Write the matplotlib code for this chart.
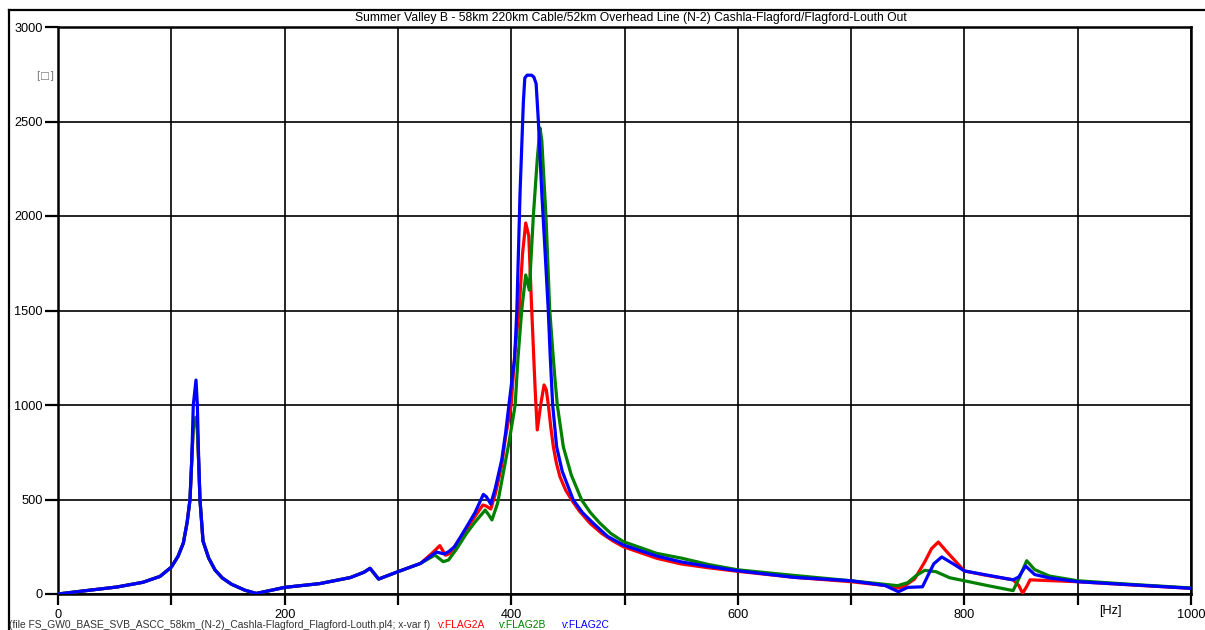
import numpy as np
import matplotlib
matplotlib.use("Agg")
import matplotlib.pyplot as plt
from matplotlib.lines import Line2D

plt.rcParams["font.family"] = ["Liberation Sans", "DejaVu Sans"]

TITLE = ("Summer Valley B - 58km 220km Cable/52km Overhead Line (N-2) "
         "Cashla-Flagford/Flagford-Louth Out")
FILE_NOTE = ("(file FS_GW0_BASE_SVB_ASCC_58km_(N-2)_Cashla-Flagford_"
             "Flagford-Louth.pl4; x-var f)")

# --- common low-frequency part (all three nodes almost identical) ---
f_low = [0, 25, 52, 75, 90, 100, 106, 110.6, 114, 116.5, 118, 119.4, 121.8,
         123, 124, 125.3, 128, 133, 138.6, 145, 153, 165, 175, 190, 200, 231,
         258, 270, 275.4, 283, 300, 320]
v_low = [0, 18, 37, 62, 93, 142, 200, 269, 380, 500, 700, 1000, 1132,
         1000, 750, 500, 280, 190, 127, 85, 52, 20, 3, 22, 35, 55,
         87, 115, 136, 79, 118, 162]
# red/green sit a little lower at the 120 Hz resonance
v_low_ab = [0, 18, 37, 62, 93, 142, 200, 269, 380, 500, 700, 880, 935,
            870, 720, 500, 280, 190, 127, 85, 52, 20, 3, 22, 35, 55,
            87, 115, 136, 79, 118, 162]

# --- v:FLAG2A ---
f_a = [330, 337, 342, 346, 352, 360.7, 368, 375, 378, 382, 386, 391.6, 395,
       400, 403.5, 407, 410, 412.8, 415.5, 418, 421, 423, 426, 429, 431,
       432.8, 435, 437.2, 440, 443, 448, 453.4, 460, 469.6, 480, 490, 499,
       528.4, 550, 575, 600, 650, 700, 730, 741.7, 746, 756, 765, 771, 777,
       785, 800, 820, 843, 848, 851.4, 855, 858, 870, 900, 950, 1000]
v_a = [215, 256, 205, 215, 270, 345, 410, 471, 465, 450, 530, 680, 830,
       1000, 1300, 1503, 1800, 1963, 1895, 1520, 1100, 868, 1000, 1106, 1080,
       1000, 880, 779, 690, 621, 550, 497, 440, 374, 320, 280, 250,
       189, 159, 138, 120, 88, 65, 45, 32, 38, 79, 170, 240, 275,
       220, 122, 98, 75, 45, 4, 40, 75, 72, 65, 47, 30]

# --- v:FLAG2B ---
f_b = [332.7, 340, 344.7, 352, 360.7, 368, 377, 380, 383, 388, 393, 398,
       403.5, 406, 409.3, 412.8, 416, 419.5, 423, 425.4, 427, 430.7, 434,
       436.5, 438.7, 440.7, 446, 453, 462.2, 470, 478.4, 488, 499, 528.4, 550,
       575, 600, 650, 700, 741, 750, 758, 765, 775, 787, 800, 820, 843, 848,
       855, 862, 875, 900, 950, 1000]
v_b = [206, 171, 180, 240, 322, 380, 444, 420, 392, 480, 640, 800,
       1000, 1250, 1503, 1688, 1608, 1996, 2300, 2466, 2400, 1996, 1503,
       1300, 1132, 1000, 779, 630, 497, 430, 374, 320, 277, 215, 190,
       155, 128, 98, 70, 44, 60, 100, 125, 118, 86, 70, 45, 18, 80,
       176, 129, 95, 70, 50, 32]

# --- v:FLAG2C ---
f_c = [334, 341, 345, 350, 360.7, 368, 375.4, 378, 382, 386, 391.6, 395,
       398, 401, 403, 405, 407.8, 410.7, 412, 414, 418, 420, 422, 424, 427,
       430, 432.7, 434.5, 436.6, 440.1, 445, 454.8, 463, 472.5, 485, 499,
       528.4, 550, 575, 600, 650, 700, 730, 741.7, 750, 763, 768, 773, 780,
       790, 800, 820, 843, 848, 854, 862, 875, 900, 950, 1000]
v_c = [222, 212, 225, 250, 356, 430, 527, 515, 476, 560, 709, 850,
       1000, 1150, 1243, 1503, 2121, 2598, 2730, 2745, 2745, 2735, 2700, 2499, 2121,
       1800, 1503, 1250, 1000, 779, 650, 497, 430, 374, 305, 259,
       201, 170, 145, 123, 88, 70, 45, 12, 35, 38, 100, 160, 196,
       160, 122, 100, 75, 90, 148, 103, 85, 65, 48, 30]

series = [
    ("v:FLAG2A", f_low + f_a, v_low_ab + v_a, "#ff0000"),
    ("v:FLAG2B", f_low + f_b, v_low_ab + v_b, "#008000"),
    ("v:FLAG2C", f_low + f_c, v_low + v_c, "#0000ff"),
]

x_ticks = np.arange(0, 1001, 100)
x_labels = ["0", "", "200", "", "400", "", "600", "", "800", "", "1000"]
y_ticks = np.arange(0, 3001, 500)

fig = plt.figure(figsize=(12.05, 6.3), dpi=100)
ax = fig.add_axes([58 / 1205, 36 / 630, 1133 / 1205, 567 / 630])

for name, f, v, color in series:
    ax.plot(f, v, color=color, lw=2.3, solid_joinstyle="round", zorder=3)

ax.set_xlim(0, 1000)
ax.set_ylim(0, 3000)
ax.set_xticks(x_ticks)
ax.set_xticklabels(x_labels)
ax.set_yticks(y_ticks)
ax.grid(True, color="black", lw=1.2)
ax.tick_params(axis="both", direction="out", color="black", width=1.6,
               labelsize=9.2, labelcolor="black")
ax.tick_params(axis="x", length=8, pad=3)
ax.tick_params(axis="y", length=9.5, pad=1.5)
for sp in ax.spines.values():
    sp.set_linewidth(1.8)

# frequency unit sits between the 900 and 1000 Hz ticks
ax.text(929, -0.0195 * 3000, "[Hz]", ha="center", va="top", fontsize=9.2,
        clip_on=False)
ax.text(-0.003, 0.915, "[\u25a1]", transform=ax.transAxes, ha="right",
        va="center", fontsize=7.5, color="#777777",
        family=["DejaVu Sans"])

fig.text(631 / 1205, 1 - 18 / 630, TITLE, ha="center", va="center",
         fontsize=8.7)

# footer: file name and the three traces
fig.text(9 / 1205, 1 - 625 / 630, FILE_NOTE, ha="left", va="center",
         fontsize=7.4, color="#333333")
for (name, _, _, color), xpos in zip(series, [438, 499, 562]):
    fig.text(xpos / 1205, 1 - 625 / 630, name, ha="left", va="center",
             fontsize=7.4, color=color)

# outer frame (left and top edges)
fig.add_artist(Line2D([9 / 1205, 9 / 1205], [0, 1 - 10 / 630],
                      transform=fig.transFigure, color="black", lw=1.6))
fig.add_artist(Line2D([9 / 1205, 1], [1 - 10 / 630, 1 - 10 / 630],
                      transform=fig.transFigure, color="black", lw=1.6))

fig.savefig("out.png", dpi=100)
